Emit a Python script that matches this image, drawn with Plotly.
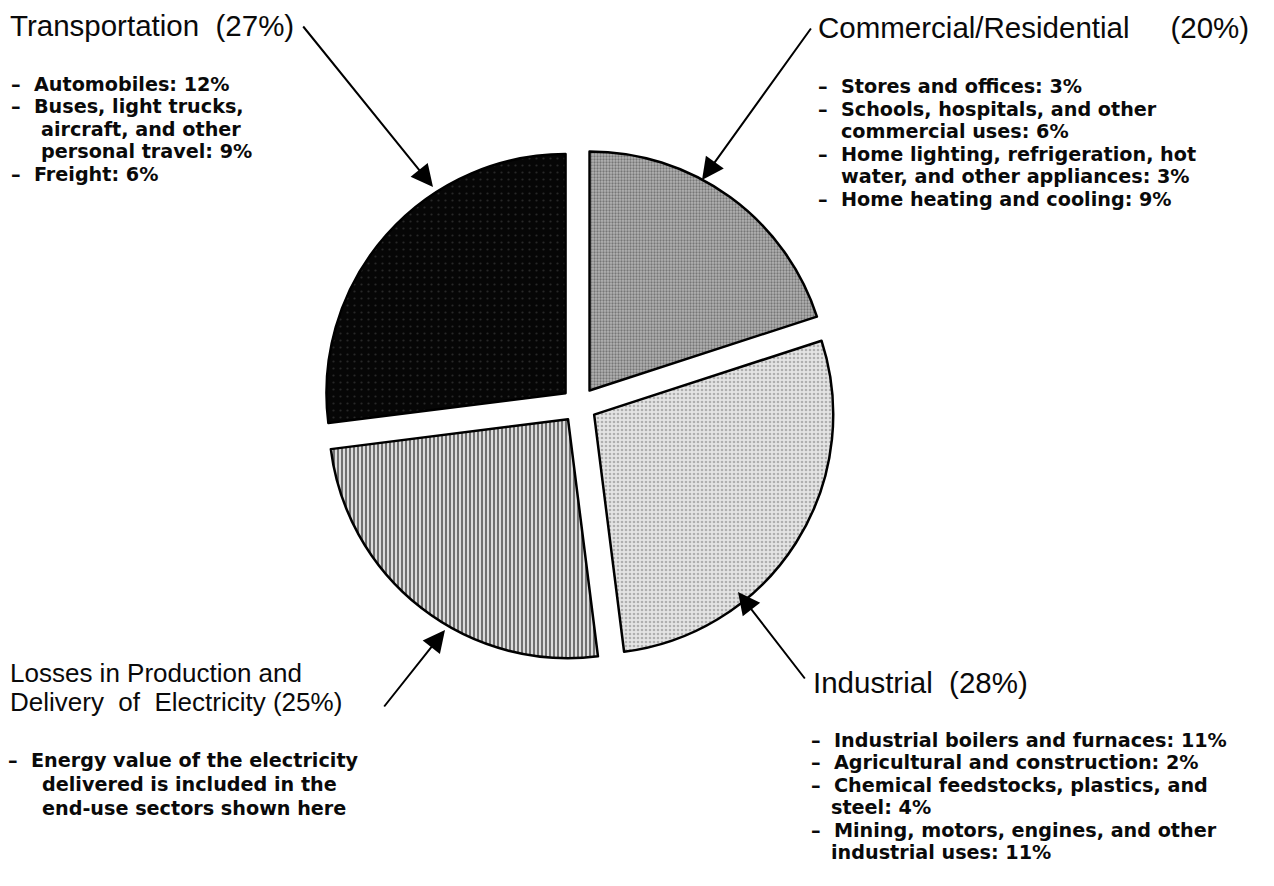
import plotly.graph_objects as go

# page geometry: the HTML body adds an 8px margin around the figure
OFF = 8
W, H = 1274 - OFF, 886 - OFF
HEAD_FONT = "Liberation Sans, Arial, Helvetica, sans-serif"
BODY_FONT = "DejaVu Sans, Liberation Sans, Arial, sans-serif"

# ---- data ----
sectors = ["Commercial/Residential", "Industrial",
           "Losses in Production and Delivery of Electricity", "Transportation"]
shares = [20, 28, 25, 27]

NB = "\u00a0"
trans_items = ["– Automobiles: 12%", "– Buses, light trucks,", "aircraft, and other",
               "personal travel: 9%", "– Freight: 6%"]
comm_items = ["– Stores and offices: 3%", "– Schools, hospitals, and other",
              "commercial uses: 6%", "– Home lighting, refrigeration, hot",
              "water, and other appliances: 3%", "– Home heating and cooling: 9%"]
ind_items = ["– Industrial boilers and furnaces: 11%", "– Agricultural and construction: 2%",
             "– Chemical feedstocks, plastics, and", "steel: 4%",
             "– Mining, motors, engines, and other", "industrial uses: 11%"]
loss_items = ["– Energy value of the electricity", "delivered is included in the",
              "end-use sectors shown here"]

# ---- styles ----
pattern_shapes = [".", ".", "|", "."]
fg_colors = ["#383838", "#7a7a7a", "#050505", "#4a4a4a"]
bg_colors = ["#b4b4b4", "#e4e4e4", "#dcdcdc", "#060606"]
pattern_sizes = [3, 4, 4, 7]
pattern_solid = [0.45, 0.35, 0.5, 0.08]


def X(px):
    return (px - OFF) / W


def Y(py):
    return 1 - (py - OFF) / H


fig = go.Figure()
cx, cy, half = 579, 405, 257
fig.add_trace(go.Pie(
    values=shares, labels=sectors, sort=False, direction="clockwise", rotation=0,
    pull=[0.075] * 4, textinfo="none", hoverinfo="label+percent", showlegend=False,
    marker=dict(colors=bg_colors, line=dict(color="#000000", width=2.5),
                pattern=dict(shape=pattern_shapes, fgcolor=fg_colors, bgcolor=bg_colors,
                             size=pattern_sizes, solidity=pattern_solid, fillmode="overlay")),
    domain=dict(x=[X(cx - half), X(cx + half)], y=[Y(cy + half), Y(cy - half)]),
))


def line(text, px, py, size, bold):
    if text.startswith("– "):
        text = "–" + NB + NB + text[2:]
    fig.add_annotation(x=X(px), y=Y(py), xref="paper", yref="paper", text=text,
                       showarrow=False, xanchor="left", yanchor="middle",
                       borderpad=0, borderwidth=0,
                       font=dict(family=BODY_FONT if bold else HEAD_FONT, size=size,
                                 color="#0a0a0a", weight="bold" if bold else "normal"))


HS, BS, LD = 29.5, 19.2, 22.5  # header / bullet font sizes, bullet leading


def block(items, x_dash, x_cont, y0, lead):
    for i, t in enumerate(items):
        line(t, x_dash if t.startswith("–") else x_cont, y0 + i * lead, BS, True)


# Transportation block
line(f"Transportation{NB} ({shares[3]}%)", 10, 25.5, HS, False)
block(trans_items, 11, 41, 84, LD)

# Commercial block
line(f"Commercial/Residential{NB}{NB}{NB}{NB} ({shares[0]}%)", 818, 28, HS, False)
block(comm_items, 818, 841, 87, LD)

# Industrial block
line(f"Industrial{NB} ({shares[1]}%)", 813, 682, HS, False)
block(ind_items, 811, 831, 740, LD)

# Losses block
line("Losses in Production and", 10, 673, 26, False)
line(f"Delivery{NB} of{NB} Electricity ({shares[2]}%)", 10, 702, 26, False)
block(loss_items, 8, 42, 760, 24)

# Arrows (tip, tail) in screen pixels
arrows = [((433, 187), (302, 25)), ((702, 180), (812, 27)),
          ((738, 592), (806, 680)), ((445, 630), (383, 708))]
for (tx, ty), (sx, sy) in arrows:
    fig.add_annotation(x=X(tx), y=Y(ty), xref="paper", yref="paper", text="",
                       showarrow=True, ax=sx - tx, ay=sy - ty, arrowhead=2, arrowsize=2.2,
                       arrowwidth=2, arrowcolor="#000000", standoff=0)

fig.update_layout(width=W, height=H, margin=dict(l=0, r=0, t=0, b=0),
                  paper_bgcolor="#ffffff", plot_bgcolor="#ffffff")
fig.write_html("out.html")
